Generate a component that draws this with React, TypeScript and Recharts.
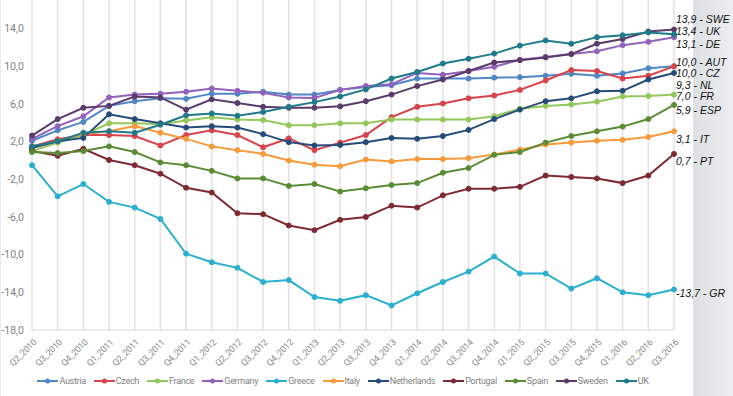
import { CartesianGrid, Line, LineChart, XAxis, YAxis } from "recharts";

const quarters = [
  "Q2_2010", "Q3_2010", "Q4_2010",
  "Q1_2011", "Q2_2011", "Q3_2011", "Q4_2011",
  "Q1_2012", "Q2_2012", "Q3_2012", "Q4_2012",
  "Q1_2013", "Q2_2013", "Q3_2013", "Q4_2013",
  "Q1_2014", "Q2_2014", "Q3_2014", "Q4_2014",
  "Q1_2015", "Q2_2015", "Q3_2015", "Q4_2015",
  "Q1_2016", "Q2_2016", "Q3_2016",
];

const austria = [2.1, 3.2, 4.1, 5.8, 6.3, 6.6, 6.55, 7.1, 7.1, 7.3, 7.0, 7.0, 7.5, 7.8, 8.0, 8.7, 8.7, 8.7, 8.8, 8.85, 9.0, 9.2, 9.0, 9.25, 9.8, 10.0];
const czech = [1.5, 2.25, 2.7, 2.7, 2.6, 1.6, 2.7, 3.2, 2.7, 1.4, 2.35, 1.1, 1.9, 2.7, 4.6, 5.7, 6.05, 6.6, 6.9, 7.5, 8.5, 9.6, 9.5, 8.7, 9.0, 10.0];
const france = [1.0, 1.9, 2.7, 3.95, 3.95, 3.85, 4.25, 4.6, 4.35, 4.3, 3.75, 3.75, 3.95, 3.95, 4.35, 4.35, 4.35, 4.35, 4.7, 5.5, 5.8, 5.95, 6.25, 6.8, 6.85, 7.0];
const germany = [2.3, 3.65, 4.7, 6.7, 7.0, 7.1, 7.3, 7.65, 7.4, 7.2, 6.7, 6.65, 7.5, 7.9, 8.1, 9.3, 9.1, 9.5, 9.95, 10.7, 11.0, 11.3, 11.6, 12.25, 12.6, 13.1];
const greece = [-0.5, -3.8, -2.5, -4.4, -5.0, -6.2, -9.9, -10.8, -11.4, -12.9, -12.7, -14.5, -14.9, -14.3, -15.4, -14.1, -12.9, -11.8, -10.2, -12.0, -12.0, -13.6, -12.5, -14.0, -14.3, -13.7];
const italy = [1.3, 2.1, 2.8, 3.1, 3.65, 2.95, 2.3, 1.5, 1.1, 0.7, 0.0, -0.45, -0.6, 0.1, -0.1, 0.15, 0.15, 0.25, 0.65, 1.15, 1.7, 1.9, 2.1, 2.2, 2.5, 3.1];
const netherlands = [1.35, 2.05, 2.4, 4.9, 4.4, 3.95, 3.5, 3.65, 3.5, 2.8, 1.95, 1.6, 1.65, 1.95, 2.4, 2.3, 2.6, 3.25, 4.4, 5.4, 6.3, 6.6, 7.35, 7.4, 8.6, 9.3];
const portugal = [1.0, 0.5, 1.25, 0.05, -0.5, -1.4, -2.9, -3.4, -5.6, -5.7, -6.9, -7.4, -6.3, -6.0, -4.8, -5.0, -3.7, -3.0, -3.0, -2.8, -1.6, -1.75, -1.9, -2.4, -1.6, 0.7];
const spain = [0.9, 0.8, 1.0, 1.5, 0.9, -0.2, -0.5, -1.1, -1.9, -1.9, -2.7, -2.5, -3.3, -2.95, -2.6, -2.4, -1.3, -0.8, 0.6, 0.9, 1.9, 2.6, 3.1, 3.6, 4.4, 5.9];
const sweden = [2.65, 4.4, 5.6, 5.8, 6.8, 6.7, 5.4, 6.5, 6.1, 5.7, 5.6, 5.6, 5.75, 6.3, 7.0, 7.9, 8.6, 9.5, 10.4, 10.65, 10.95, 11.3, 12.4, 12.9, 13.7, 13.9];
const uk = [1.5, 2.05, 2.95, 3.1, 2.95, 3.8, 4.8, 5.0, 4.75, 5.15, 5.7, 6.2, 6.8, 7.55, 8.7, 9.4, 10.3, 10.8, 11.35, 12.2, 12.75, 12.4, 13.1, 13.3, 13.6, 13.4];

const series = [
  { name: "Austria", values: austria, color: "#4f86c6" },
  { name: "Czech", values: czech, color: "#d9434b" },
  { name: "France", values: france, color: "#93c85a" },
  { name: "Germany", values: germany, color: "#9362bc" },
  { name: "Greece", values: greece, color: "#2aafcf" },
  { name: "Italy", values: italy, color: "#f89a3c" },
  { name: "Netherlands", values: netherlands, color: "#254b7a" },
  { name: "Portugal", values: portugal, color: "#7f2a32" },
  { name: "Spain", values: spain, color: "#5a8c35" },
  { name: "Sweden", values: sweden, color: "#5b3b6b" },
  { name: "UK", values: uk, color: "#1f7a8a" },
];

// end-of-line annotations (text, vertical centre on the page)
const endLabels = [
  { text: "13,9 - SWE", y: 19 },
  { text: "13,4 - UK", y: 31 },
  { text: "13,1 - DE", y: 44 },
  { text: "10,0 - AUT", y: 62 },
  { text: "10,0 - CZ", y: 73 },
  { text: "9,3 - NL", y: 85 },
  { text: "7,0 - FR", y: 96 },
  { text: "5,9 - ESP", y: 110 },
  { text: "3,1 - IT", y: 139 },
  { text: "0,7 - PT", y: 161 },
  { text: "-13,7 - GR", y: 293 },
];

// axis runs to 18, but the top of the chart is cropped so 18,0 is not shown
const yTicks = [-18, -14, -10, -6, -2, 2, 6, 10, 14];

const data = quarters.map((q, i) => {
  const row: Record<string, string | number> = { q };
  series.forEach((s) => {
    row[s.name] = s.values[i];
  });
  return row;
});

const font = "Roboto, sans-serif";

function XTick(props: any) {
  const { x, y, payload } = props;
  const ax = x + 5;
  const ay = y + 5;
  return (
    <text
      x={ax}
      y={ay}
      textAnchor="end"
      transform={`rotate(-45 ${ax} ${ay})`}
      fontSize={9}
      letterSpacing={-0.3}
      fontFamily={font}
      fill="#8a8a8a"
    >
      {payload.value}
    </text>
  );
}

export default function App() {
  return (
    <div
      style={{
        position: "absolute",
        left: 0,
        top: 0,
        width: 733,
        height: 396,
        overflow: "hidden",
        background: "#ffffff",
        borderLeft: "1px solid #ececec",
        boxSizing: "border-box",
      }}
    >
      <div
        style={{
          position: "absolute",
          left: 692,
          top: 0,
          width: 41,
          height: 396,
          background: "linear-gradient(90deg, #dde1e3, #eceeef)",
        }}
      />
      <div style={{ position: "absolute", left: -1, top: -30 }}>
        <LineChart
          width={733}
          height={430}
          data={data}
          margin={{ top: 21, right: 59, bottom: 0, left: 0 }}
        >
          <CartesianGrid horizontal={false} stroke="#e3e3e3" strokeWidth={1.5} />
          <XAxis
            dataKey="q"
            interval={0}
            height={70}
            tickLine={false}
            axisLine={{ stroke: "#d9d9d9" }}
            tick={<XTick />}
          />
          <YAxis
            width={32}
            domain={[-18, 18]}
            ticks={yTicks}
            axisLine={false}
            tickLine={false}
            tick={{ fill: "#7f7f7f", fontSize: 10.5, fontFamily: font }}
            tickFormatter={(v) => v.toFixed(1).replace(".", ",")}
          />
          {series.map((s) => (
            <Line
              key={s.name}
              type="linear"
              dataKey={s.name}
              stroke={s.color}
              strokeWidth={2}
              dot={{ r: 2.5, fill: s.color, stroke: s.color, strokeWidth: 1 }}
              isAnimationActive={false}
            />
          ))}
        </LineChart>
      </div>
      {endLabels.map((l) => (
        <div
          key={l.text}
          style={{
            position: "absolute",
            left: 675,
            top: l.y - 7,
            fontFamily: "'Liberation Sans', Arial, sans-serif",
            fontStyle: "italic",
            fontSize: 10.5,
            lineHeight: "14px",
            color: "#111",
            whiteSpace: "nowrap",
          }}
        >
          {l.text}
        </div>
      ))}
      <div
        style={{
          position: "absolute",
          left: 0,
          width: 692,
          top: 374,
          display: "flex",
          justifyContent: "center",
          fontFamily: font,
          fontSize: 9,
          letterSpacing: -0.3,
          color: "#7f7f7f",
          lineHeight: "14px",
        }}
      >
        {series.map((s) => (
          <div key={s.name} style={{ display: "flex", alignItems: "center", marginRight: 8 }}>
            <svg width={21} height={8} style={{ marginRight: 1 }}>
              <line x1={0} y1={4} x2={21} y2={4} stroke={s.color} strokeWidth={2} />
              <circle cx={10.5} cy={4} r={2.5} fill={s.color} />
            </svg>
            <span>{s.name}</span>
          </div>
        ))}
      </div>
    </div>
  );
}
